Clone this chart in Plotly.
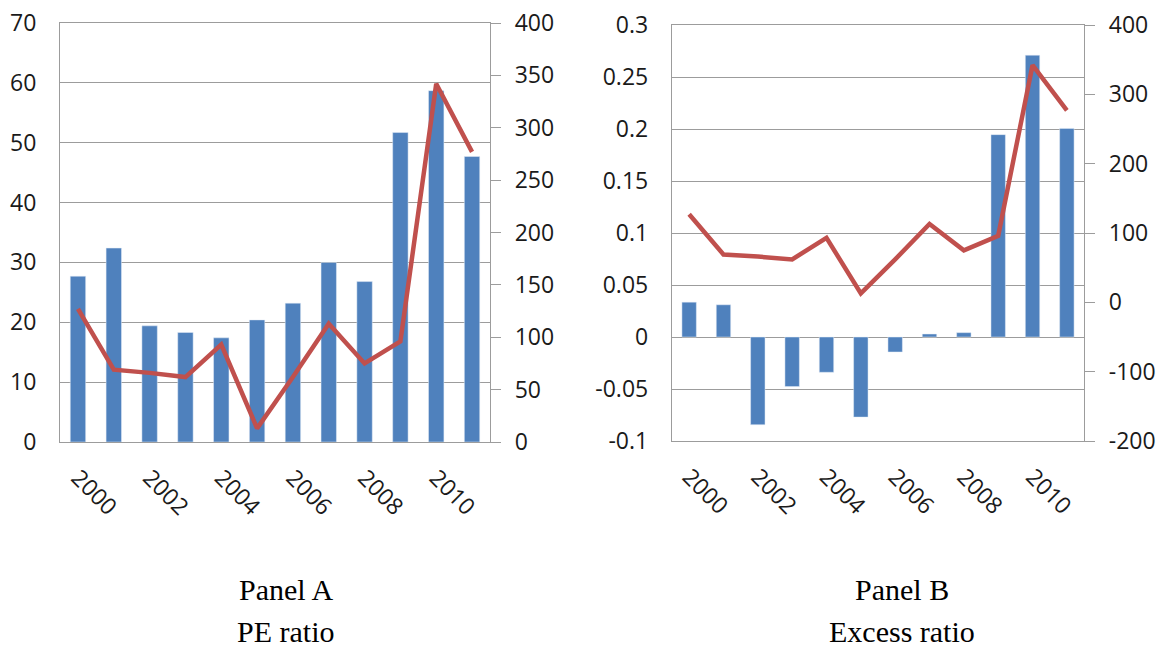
import plotly.graph_objects as go

years = [2000, 2001, 2002, 2003, 2004, 2005, 2006, 2007, 2008, 2009, 2010, 2011]
pe_ratio = [27.7, 32.4, 19.4, 18.3, 17.4, 20.4, 23.2, 30.0, 26.8, 51.7, 58.7, 47.7]
excess_ratio = [0.0335, 0.031, -0.0843, -0.0476, -0.0339, -0.077, -0.0144, 0.0029, 0.0042, 0.1946, 0.271, 0.2006]
line_values = [127, 69, 66, 62, 93, 13, 62, 113, 75, 96, 342, 277]
year_ticks = [2000, 2002, 2004, 2006, 2008, 2010]
pe_ticks = [0, 10, 20, 30, 40, 50, 60, 70]
count_ticks_a = [0, 50, 100, 150, 200, 250, 300, 350, 400]
excess_ticks = [-0.1, -0.05, 0, 0.05, 0.1, 0.15, 0.2, 0.25, 0.3]
excess_labels = ["-0.1", "-0.05", "0", "0.05", "0.1", "0.15", "0.2", "0.25", "0.3"]
count_ticks_b = [-200, -100, 0, 100, 200, 300, 400]
count_labels_b = ["-200", "-100", "0", "100", "200", "300", "400"]
titles_a = ["Panel A", "PE ratio"]
titles_b = ["Panel B", "Excess ratio"]

BAR = "#4F81BD"
LINE = "#C0504D"
GRID = "#9C9C9C"
TXT = "#1a1a1a"
TICKFONT = dict(family="Open Sans", size=23, color=TXT)

fig = go.Figure()
fig.add_trace(go.Bar(x=years, y=pe_ratio, marker_color=BAR, width=0.43,
                     xaxis="x", yaxis="y", showlegend=False))
fig.add_trace(go.Scatter(x=years, y=line_values, mode="lines",
                         line=dict(color=LINE, width=4.5),
                         xaxis="x", yaxis="y2", showlegend=False))
fig.add_trace(go.Bar(x=years, y=excess_ratio, marker_color=BAR, width=0.42,
                     xaxis="x2", yaxis="y3", showlegend=False))
fig.add_trace(go.Scatter(x=years, y=line_values, mode="lines",
                         line=dict(color=LINE, width=4.5),
                         xaxis="x2", yaxis="y4", showlegend=False))

xcommon = dict(range=[1999.5, 2011.5], tickvals=year_ticks, tickangle=45,
               showgrid=False, zeroline=False, showline=True, linecolor=GRID,
               linewidth=1.3, mirror=True, ticks="", tickfont=TICKFONT,
               ticklabelstandoff=12, automargin=False)
yleft = dict(showgrid=True, gridcolor=GRID, gridwidth=1.3, zeroline=False,
             showline=True, linecolor=GRID, linewidth=1.3, ticks="",
             tickfont=TICKFONT, ticklabelstandoff=18, automargin=False)
yright = dict(showgrid=False, zeroline=False, showline=True, linecolor=GRID,
              linewidth=1.3, ticks="outside", ticklen=10, tickcolor=GRID,
              tickwidth=1.3, tickfont=TICKFONT, ticklabelstandoff=9, side="right",
              automargin=False)

ya = [0.3179, 0.9645]
yb = [0.3194, 0.9614]
fig.update_layout(
    width=1166, height=648,
    margin=dict(l=0, r=0, t=0, b=0),
    paper_bgcolor="white", plot_bgcolor="white",
    xaxis=dict(domain=[0.0515, 0.4202], anchor="y", **xcommon),
    yaxis=dict(domain=ya, anchor="x", range=[0, 70], tickvals=pe_ticks, **yleft),
    yaxis2=dict(domain=ya, anchor="x", overlaying="y", range=[0, 400],
                tickvals=count_ticks_a, **yright),
    xaxis2=dict(domain=[0.5763, 0.9297], anchor="y3", **xcommon),
    yaxis3=dict(domain=yb, anchor="x2", range=[-0.1, 0.3], tickvals=excess_ticks,
                ticktext=excess_labels, **yleft),
    yaxis4=dict(domain=yb, anchor="x2", overlaying="y3", range=[-200, 400],
                tickvals=count_ticks_b, ticktext=count_labels_b, **yright),
)

serif = dict(family="Liberation Serif", size=30, color="black")
for cx, lines in [(285.5 / 1166, titles_a), (902 / 1166, titles_b)]:
    for i, t in enumerate(lines):
        fig.add_annotation(text=t, x=cx, y=1 - (589 + 42 * i) / 648,
                           xref="paper", yref="paper", showarrow=False,
                           xanchor="center", yanchor="middle", font=serif)

fig.write_html("out.html", config={"displayModeBar": False},
               post_script="document.body.style.margin='0';")
